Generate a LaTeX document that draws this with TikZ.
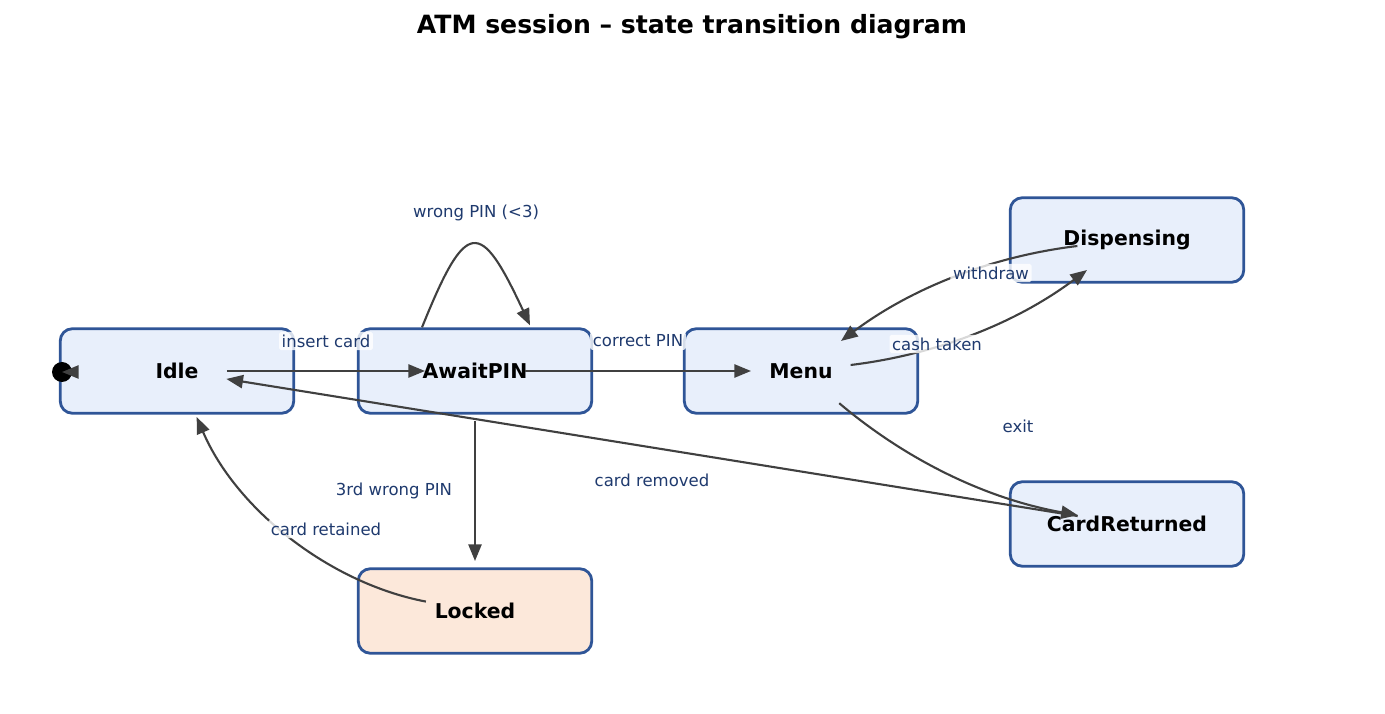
\documentclass[tikz,border=0pt]{standalone}
\usepackage{fontspec}
\setmainfont{DejaVu Sans}
\usetikzlibrary{arrows.meta}
\definecolor{stateline}{RGB}{47,85,151}
\definecolor{statefill}{RGB}{232,239,251}
\definecolor{lockfill}{RGB}{252,232,218}
\definecolor{edgegray}{RGB}{64,64,64}
\definecolor{lbltext}{RGB}{31,58,110}
\tikzset{
  state/.style={draw=stateline, fill=statefill, line width=1.6pt,
    rounded corners=0.24cm, minimum width=4.67cm, minimum height=1.69cm,
    font=\fontsize{11.6}{13}\selectfont\bfseries},
  trans/.style={draw=edgegray, line width=1.2pt,
    -{Triangle[length=9.5pt,width=7.5pt]}, shorten <=1cm, shorten >=1cm},
  lbl/.style={fill=white, fill opacity=0.8, text opacity=1, text=lbltext,
    font=\fontsize{9.4}{11}\selectfont, inner sep=1.5pt, rounded corners=1pt}
}
\begin{document}
\begin{tikzpicture}[x=0.02cm, y=0.02cm]
      \useasboundingbox (0,0) rectangle (1385,713);
      \node (title) at (692,686) {\fontsize{14.3}{17}\selectfont\bfseries ATM session – state transition diagram};
      \node[state] (idle) at (177,342) {Idle};
      \node[state] (await) at (475,342) {AwaitPIN};
      \node[state] (menu) at (801,342) {Menu};
      \node[state] (disp) at (1127,473) {Dispensing};
      \node[state] (cardret) at (1127,189) {CardReturned};
      \node[state, fill=lockfill] (locked) at (475,102) {Locked};
      \node[circle, fill=black, inner sep=0pt, minimum size=0.4cm] (init) at (62,341) {};
      \coordinate (initstub) at (74,341);
      \begin{scope}
        \draw[trans, shorten <=0pt, shorten >=0pt] (initstub) -- (init.center);
        \draw[trans] (idle.center) -- (await.center);
        \draw[trans] (await.center) -- (menu.center);
        \draw[trans, shorten <=0pt, shorten >=0pt]
          ([xshift=-1.06cm]await.north) to[out=68, in=115, looseness=2.8] ([xshift=1.1cm, yshift=0.04cm]await.north);
        \draw[trans] (menu.center) to[bend right=15] (disp.center);
        \draw[trans] (disp.center) to[bend right=15] (menu.center);
        \draw[trans] (menu.center) to[bend right=15] (cardret.center);
        \draw[trans] (cardret.center) -- (idle.center);
        \draw[trans] (await.center) -- (locked.center);
        \draw[trans] (locked.center) to[bend left=28] (idle.center);
      \end{scope}
      \node[lbl] (linsert) at (326,372) {insert card};
      \node[lbl] (lcorrect) at (638,372) {correct PIN};
      \node[lbl] (lwrong) at (476,500) {wrong PIN (<3)};
      \node[lbl] (lwithdraw) at (991,440) {withdraw};
      \node[lbl] (lcash) at (937,369) {cash taken};
      \node[lbl] (lexit) at (1018,287) {exit};
      \node[lbl] (lremoved) at (652,233) {card removed};
      \node[lbl] (lthird) at (394,222) {3rd wrong PIN};
      \node[lbl] (lretained) at (326,184) {card retained};
    \end{tikzpicture}
\end{document}
